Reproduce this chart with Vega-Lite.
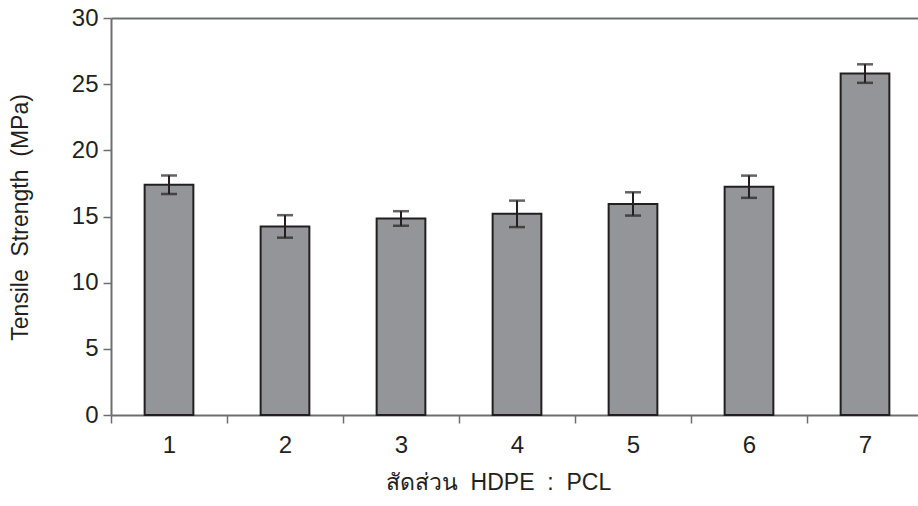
{
  "$schema": "https://vega.github.io/schema/vega-lite/v6.json",
  "autosize": {"type": "none"},
  "padding": {"left": 111, "top": 18, "right": 1, "bottom": 91},
  "width": 806,
  "height": 397,
  "background": "white",
  "config": {
    "view": {"stroke": null},
    "font": "Liberation Sans, Arial, Noto Sans, sans-serif"
  },
  "data": {
    "values": [
      {"ratio": "1", "mean": 17.4, "err": 0.7},
      {"ratio": "2", "mean": 14.25, "err": 0.85},
      {"ratio": "3", "mean": 14.85, "err": 0.55},
      {"ratio": "4", "mean": 15.2, "err": 1.0},
      {"ratio": "5", "mean": 15.95, "err": 0.88},
      {"ratio": "6", "mean": 17.25, "err": 0.84},
      {"ratio": "7", "mean": 25.8, "err": 0.7}
    ]
  },
  "encoding": {
    "x": {
      "field": "ratio",
      "type": "ordinal",
      "scale": {"range": [0, 812], "paddingInner": 0, "paddingOuter": 0},
      "axis": {
        "title": "สัดส่วน\u00a0\u00a0HDPE\u00a0\u00a0:\u00a0\u00a0PCL",
        "labelAngle": 0,
        "tickBand": "extent",
        "tickSize": 8,
        "tickColor": "#6d6e71",
        "tickWidth": 1.5,
        "domainColor": "#6d6e71",
        "domainWidth": 2,
        "labelFontSize": 24,
        "labelColor": "#231f20",
        "labelBaseline": "alphabetic",
        "labelPadding": 29,
        "titleFontSize": 23,
        "titleFontWeight": "normal",
        "titleColor": "#231f20",
        "titleX": 387,
        "titleY": 74,
        "titleAlign": "center",
        "titleBaseline": "alphabetic"
      }
    },
    "y": {
      "field": "mean",
      "type": "quantitative",
      "scale": {"domain": [0, 30], "nice": false},
      "axis": {
        "title": "Tensile\u00a0\u00a0Strength\u00a0\u00a0(MPa)",
        "values": [0, 5, 10, 15, 20, 25, 30],
        "grid": true,
        "gridColor": "#6d6e71",
        "gridWidth": 2,
        "gridOpacity": {"condition": {"test": "datum.value === 30", "value": 1}, "value": 0},
        "tickSize": 8,
        "tickColor": "#6d6e71",
        "tickWidth": 1.5,
        "domainColor": "#6d6e71",
        "domainWidth": 2,
        "labelFontSize": 24,
        "labelColor": "#231f20",
        "labelPadding": 5,
        "titleFontSize": 23,
        "titleFontWeight": "normal",
        "titleColor": "#231f20",
        "titleAngle": -90,
        "titleX": -84,
        "titleY": 199,
        "titleAlign": "center",
        "titleBaseline": "alphabetic"
      }
    }
  },
  "layer": [
    {
      "mark": {
        "type": "bar",
        "width": {"band": 0.42},
        "fill": "#939598",
        "stroke": "#231f20",
        "strokeWidth": 2
      }
    },
    {
      "mark": {
        "type": "errorbar",
        "ticks": {"size": 16, "thickness": 2.5, "color": "#231f20"},
        "rule": {"strokeWidth": 2, "color": "#231f20"}
      },
      "encoding": {
        "yError": {"field": "err"}
      }
    }
  ]
}
